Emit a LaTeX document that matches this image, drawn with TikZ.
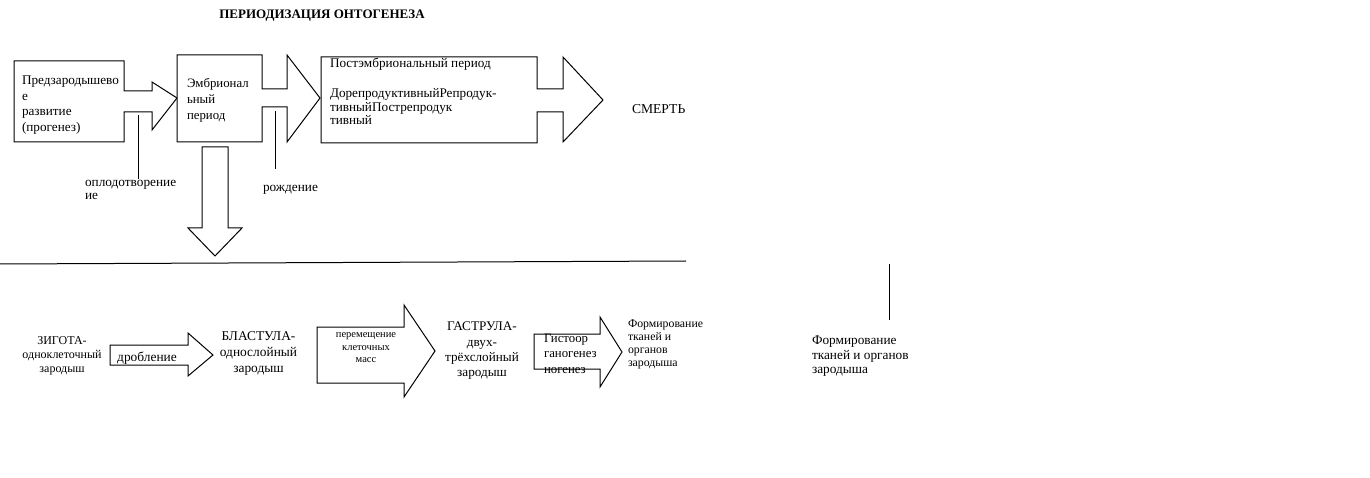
\documentclass[tikz,border=0pt]{standalone}
\usepackage{fontspec}
\setmainfont{Liberation Serif}
\begin{document}
\begin{tikzpicture}[x=1pt,y=-1pt,
  blk/.style={draw=black,line width=1pt,fill=white,line join=miter},
  ln/.style={draw=black,line width=1pt},
  t/.style={inner sep=0pt,outer sep=0pt,font=\fontsize{12}{15}\selectfont,align=left},
  tc/.style={t,align=center},
  ts/.style={inner sep=0pt,outer sep=0pt,font=\fontsize{10.5}{12.5}\selectfont,align=center}]
\useasboundingbox[fill=white] (0,0) rectangle (1370,478);
% title
\node[inner sep=0pt,font=\fontsize{13}{15}\selectfont\bfseries] (title) at (322,15.5) {ПЕРИОДИЗАЦИЯ ОНТОГЕНЕЗА};
% top row block shapes
\draw[blk] (14,61) -- (124,61) -- (124,91) -- (152,91) -- (152,82) -- (177,98) -- (152,130) -- (152,112) -- (124,112) -- (124,142) -- (14,142) -- cycle;
\draw[blk] (177,55) -- (262,55) -- (262,89) -- (287,89) -- (287,55) -- (320,98) -- (287,142) -- (287,107) -- (262,107) -- (262,142) -- (177,142) -- cycle;
\draw[blk] (321,57) -- (537,57) -- (537,89) -- (563,89) -- (563,57) -- (603,100) -- (563,142) -- (563,112) -- (537,112) -- (537,143) -- (321,143) -- cycle;
\draw[blk] (202,147) -- (228,147) -- (228,228) -- (242,228) -- (215,256) -- (188,228) -- (202,228) -- cycle;
% top row texts
\node[t,anchor=north west,font=\fontsize{13.2}{15.5}\selectfont] (pre) at (22,76) {Предзародышево\\е\\развитие\\(прогенез)};
\node[t,anchor=north west,font=\fontsize{12.8}{16}\selectfont] (emb) at (187,78) {Эмбрионал\\ьный\\период};
\node[t,anchor=north west,font=\fontsize{13.2}{14}\selectfont] (post) at (330,58) {Постэмбриональный период};
\node[t,anchor=north west,font=\fontsize{13.2}{13.6}\selectfont] (postsub) at (330,88.5) {ДорепродуктивныйРепродук-\\тивныйПострепродук\\тивный};
\node[t,anchor=west,font=\fontsize{13.6}{15}\selectfont] (death) at (632,109) {СМЕРТЬ};
% event lines and labels
\coordinate (f1) at (138,115);
\coordinate (f2) at (138,179);
\coordinate (b1) at (275,111);
\coordinate (b2) at (275,169);
\draw[ln] (f1) -- (f2);
\draw[ln] (b1) -- (b2);
\node[t,anchor=north west,font=\fontsize{13.3}{13}\selectfont] (fert) at (85,180) {оплодотворение\\ие};
\node[t,anchor=west,font=\fontsize{13.3}{13}\selectfont] (birth) at (263,190) {рождение};
% divider
\coordinate (d1) at (0,264);
\coordinate (d2) at (686,261);
\draw[ln] (d1) -- (d2);
\coordinate (v1) at (889,264);
\coordinate (v2) at (889,320);
\draw[ln] (v1) -- (v2);
% bottom row arrows
\draw[blk] (110,345) -- (188,345) -- (188,333) -- (213,355) -- (188,376) -- (188,365) -- (110,365) -- cycle;
\draw[blk] (317,327) -- (404,327) -- (404,305) -- (435,351) -- (404,397) -- (404,383) -- (317,383) -- cycle;
\draw[blk] (534,334) -- (600,334) -- (600,317) -- (622,352) -- (600,387) -- (600,369) -- (534,369) -- cycle;
% bottom row texts
\node[tc,anchor=north,font=\fontsize{12}{13.7}\selectfont] (zyg) at (62,337) {ЗИГОТА-\\одноклеточный\\зародыш};
\node[t,font=\fontsize{13.4}{14}\selectfont] (drob) at (147,358) {дробление};
\node[tc,anchor=north,font=\fontsize{13.4}{16}\selectfont] (blast) at (258.5,332) {БЛАСТУЛА-\\однослойный\\зародыш};
\node[ts,anchor=north] (move) at (366,333) {перемещение\\клеточных\\масс};
\node[tc,anchor=north,font=\fontsize{13.2}{15.3}\selectfont] (gast) at (482,322) {ГАСТРУЛА-\\двух-\\трёхслойный\\зародыш};
\node[t,anchor=north west,font=\fontsize{12.8}{15.5}\selectfont] (hist) at (544,334) {Гистоор\\ганогенез\\ногенез};
\node[t,anchor=north west,font=\fontsize{11.8}{13}\selectfont] (form1) at (628,320) {Формирование\\тканей и\\органов\\зародыша};
\node[t,anchor=north west,font=\fontsize{13.3}{14.5}\selectfont] (form2) at (812,336) {Формирование\\тканей и органов\\зародыша};
\end{tikzpicture}
\end{document}
